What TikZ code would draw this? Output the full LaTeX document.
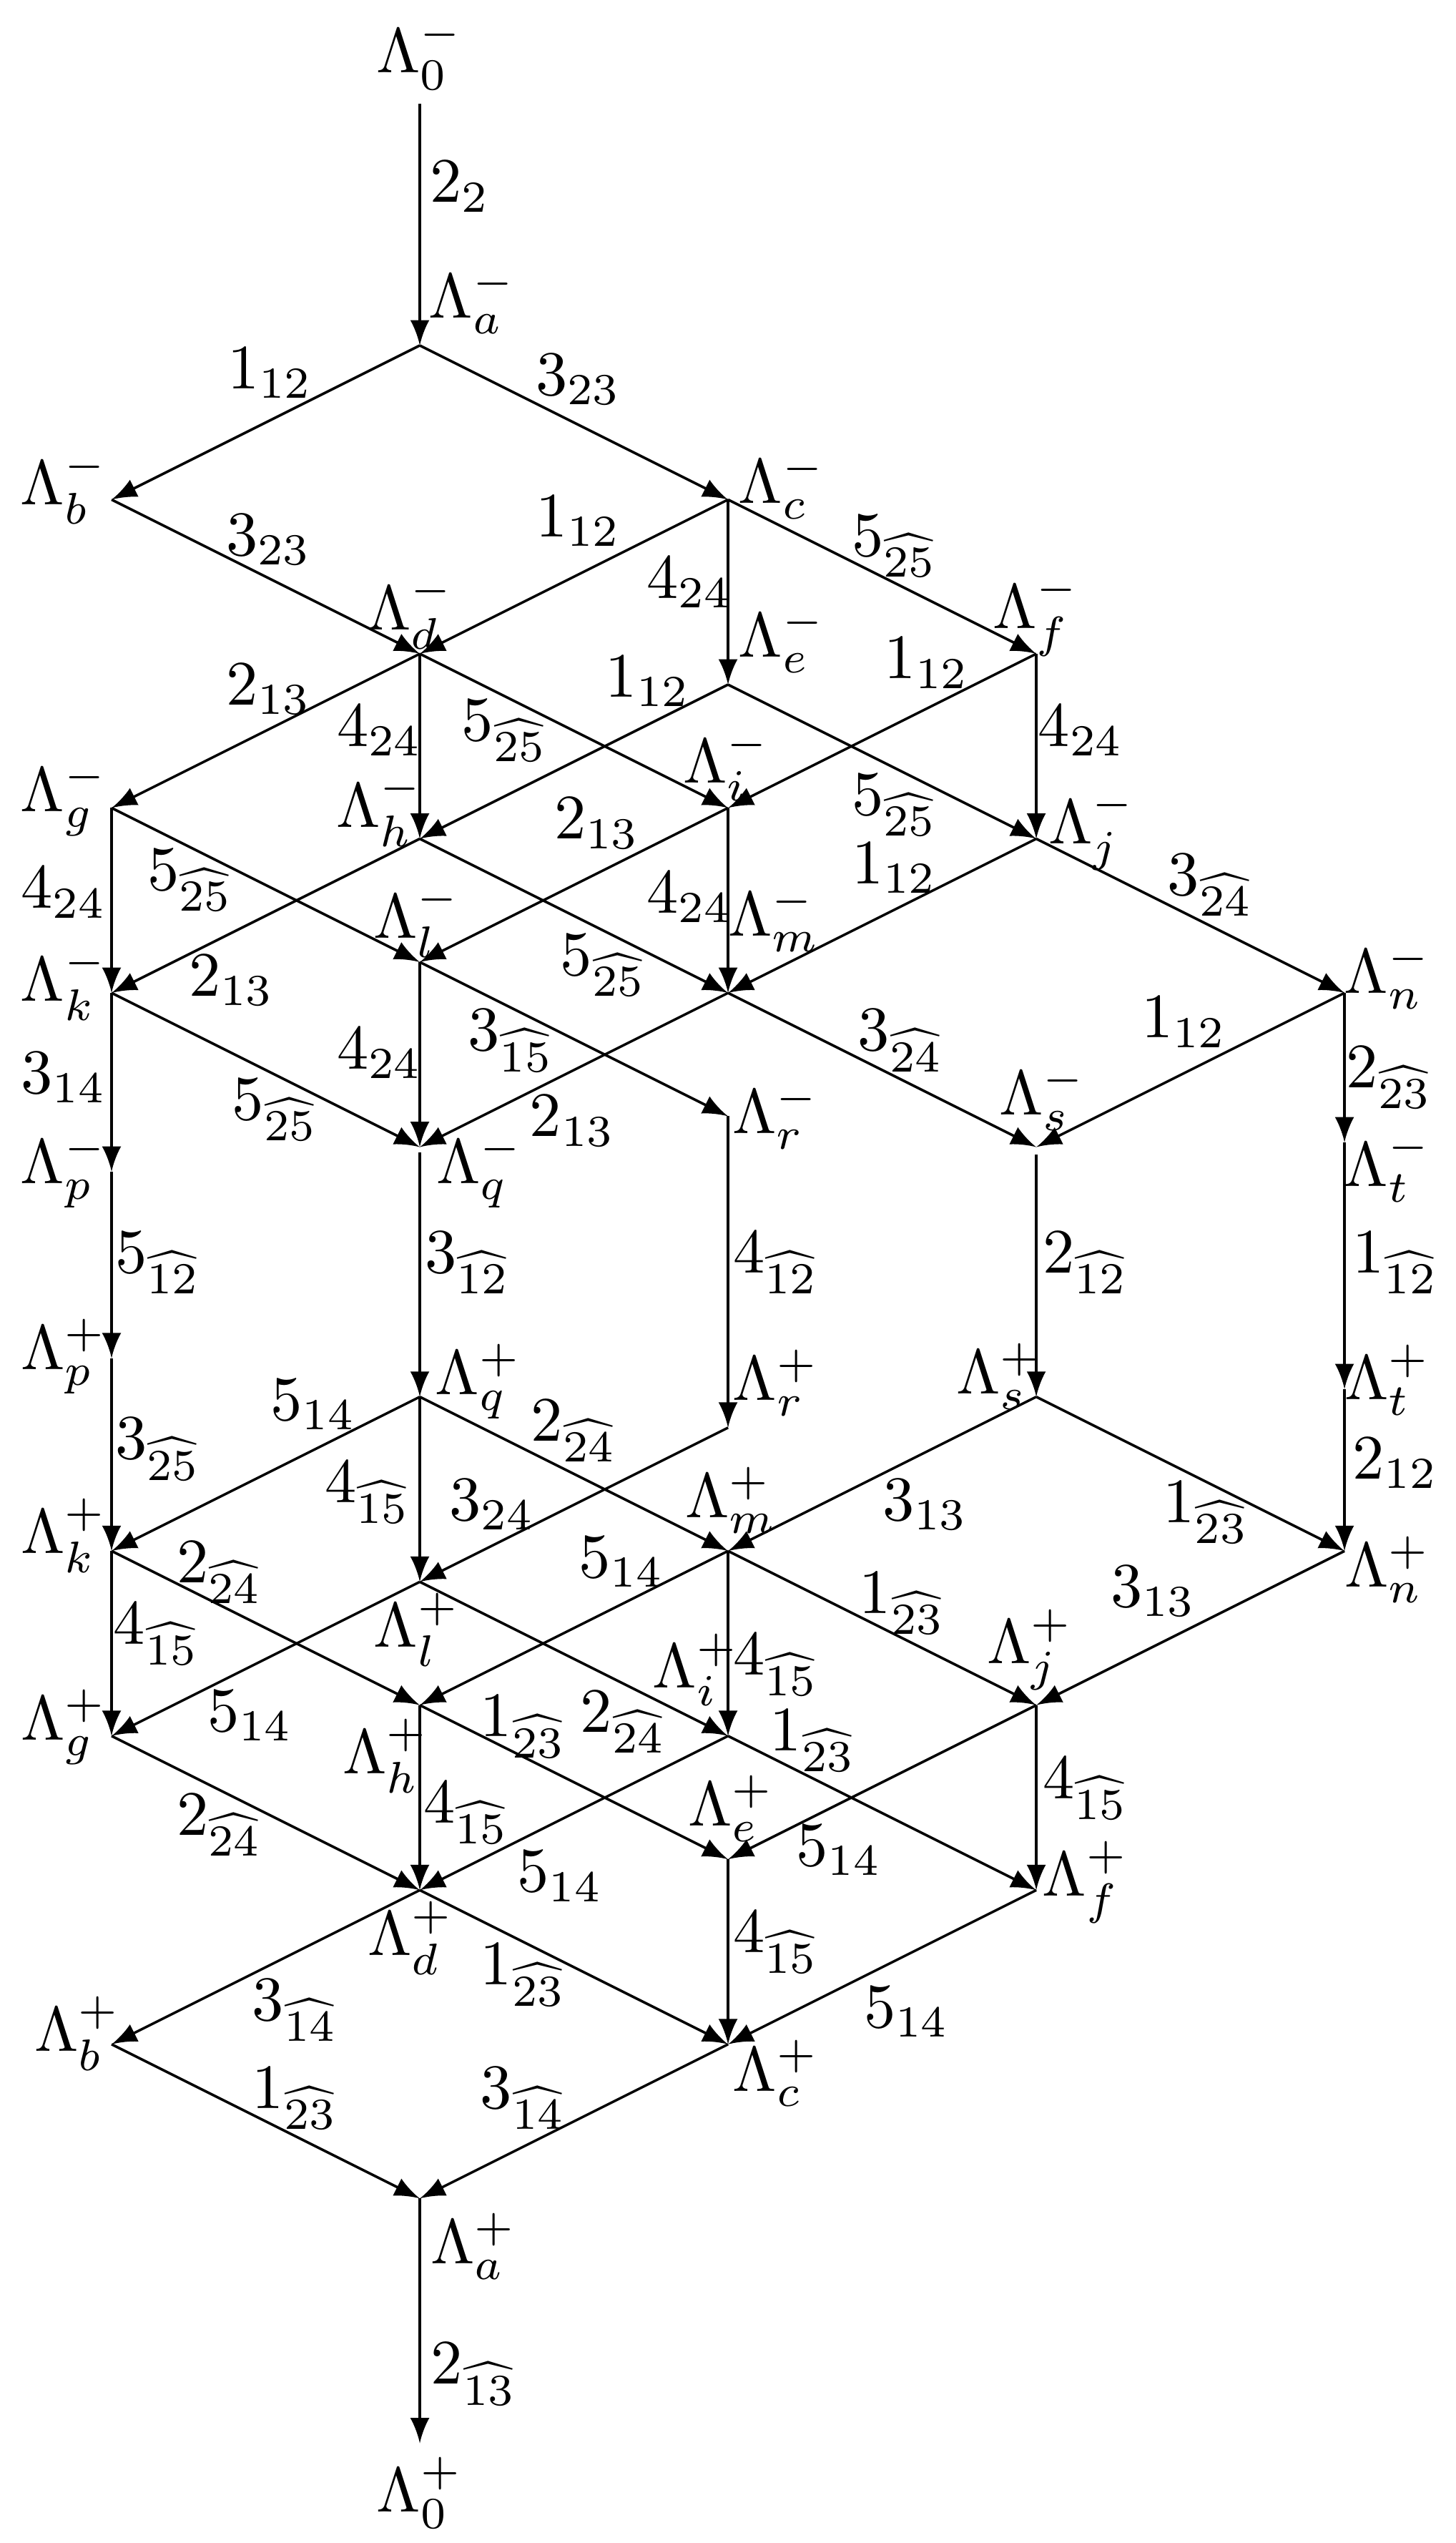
\documentclass[tikz,border=0pt]{standalone}
\usepackage{amsmath}
\begin{document}
\begin{tikzpicture}[
    x=0.856cm, y=0.856cm,
    vlab/.style={inner sep=0pt},
    elab/.style={inner sep=0pt},
    endpt/.style={inner sep=2pt},
    arrow/.style={-latex}
]
\useasboundingbox (-2.724,2.241) rectangle (6.719,-14.255);

% End nodes
\node[endpt] (zm) at (0,1.89) {$\Lambda_0^-$};
\node[endpt] (zp) at (0,-13.93) {$\Lambda_0^+$};

% Vertices, minus half
\coordinate (am) at (0,0);
\coordinate (bm) at (-2,-1);
\coordinate (cm) at (2,-1);
\coordinate (dm) at (0,-2);
\coordinate (em) at (2,-2.2);
\coordinate (fm) at (4,-2);
\coordinate (gm) at (-2,-3);
\coordinate (hm) at (0,-3.2);
\coordinate (im) at (2,-3);
\coordinate (jm) at (4,-3.2);
\coordinate (km) at (-2,-4.2);
\coordinate (lm) at (0,-4);
\coordinate (mm) at (2,-4.2);
\coordinate (nm) at (6,-4.2);
\coordinate (pm) at (-2,-5.36);
\coordinate (qm) at (0,-5.2);
\coordinate (rm) at (2,-5);
\coordinate (sm) at (4,-5.2);
\coordinate (tm) at (6,-5.17);

% Vertices, plus half
\coordinate (pp) at (-2,-6.57);
\coordinate (qp) at (0,-6.82);
\coordinate (rp) at (2,-7.02);
\coordinate (sp) at (4,-6.82);
\coordinate (tp) at (6,-6.77);
\coordinate (kp) at (-2,-7.82);
\coordinate (lp) at (0,-8.02);
\coordinate (mp) at (2,-7.82);
\coordinate (np) at (6,-7.82);
\coordinate (gp) at (-2,-9.02);
\coordinate (hp) at (0,-8.82);
\coordinate (ip) at (2,-9.02);
\coordinate (jp) at (4,-8.82);
\coordinate (dp) at (0,-10.02);
\coordinate (ep) at (2,-9.82);
\coordinate (fp) at (4,-10.02);
\coordinate (bp) at (-2,-11.02);
\coordinate (cp) at (2,-11.02);
\coordinate (ap) at (0,-12.02);

% Vertex labels
\node[vlab] (L-am) at (0.34,0.29) {$\Lambda_a^-$};
\node[vlab] (L-bm) at (-2.31,-0.92) {$\Lambda_b^-$};
\node[vlab] (L-cm) at (2.35,-0.91) {$\Lambda_c^-$};
\node[vlab] (L-dm) at (-0.06,-1.73) {$\Lambda_d^-$};
\node[vlab] (L-em) at (2.35,-1.91) {$\Lambda_e^-$};
\node[vlab] (L-fm) at (4.00,-1.75) {$\Lambda_f^-$};
\node[vlab] (L-gm) at (-2.31,-2.94) {$\Lambda_g^-$};
\node[vlab] (L-hm) at (-0.26,-3.01) {$\Lambda_h^-$};
\node[vlab] (L-im) at (1.99,-2.72) {$\Lambda_i^-$};
\node[vlab] (L-jm) at (4.36,-3.14) {$\Lambda_j^-$};
\node[vlab] (L-km) at (-2.31,-4.14) {$\Lambda_k^-$};
\node[vlab] (L-lm) at (-0.02,-3.73) {$\Lambda_l^-$};
\node[vlab] (L-mm) at (2.30,-3.72) {$\Lambda_m^-$};
\node[vlab] (L-nm) at (6.28,-4.09) {$\Lambda_n^-$};
\node[vlab] (L-pm) at (-2.31,-5.35) {$\Lambda_p^-$};
\node[vlab] (L-qm) at (0.39,-5.35) {$\Lambda_q^-$};
\node[vlab] (L-rm) at (2.31,-5.00) {$\Lambda_r^-$};
\node[vlab] (L-sm) at (4.04,-4.88) {$\Lambda_s^-$};
\node[vlab] (L-tm) at (6.28,-5.33) {$\Lambda_t^-$};
\node[vlab] (L-pp) at (-2.31,-6.56) {$\Lambda_p^+$};
\node[vlab] (L-qp) at (0.38,-6.72) {$\Lambda_q^+$};
\node[vlab] (L-rp) at (2.31,-6.73) {$\Lambda_r^+$};
\node[vlab] (L-sp) at (3.76,-6.69) {$\Lambda_s^+$};
\node[vlab] (L-tp) at (6.28,-6.71) {$\Lambda_t^+$};
\node[vlab] (L-kp) at (-2.31,-7.72) {$\Lambda_k^+$};
\node[vlab] (L-lp) at (-0.02,-8.33) {$\Lambda_l^+$};
\node[vlab] (L-mp) at (2.02,-7.49) {$\Lambda_m^+$};
\node[vlab] (L-np) at (6.28,-7.94) {$\Lambda_n^+$};
\node[vlab] (L-gp) at (-2.31,-8.96) {$\Lambda_g^+$};
\node[vlab] (L-hp) at (-0.22,-9.15) {$\Lambda_h^+$};
\node[vlab] (L-ip) at (1.79,-8.59) {$\Lambda_i^+$};
\node[vlab] (L-jp) at (3.96,-8.46) {$\Lambda_j^+$};
\node[vlab] (L-dp) at (-0.06,-10.33) {$\Lambda_d^+$};
\node[vlab] (L-ep) at (2.02,-9.49) {$\Lambda_e^+$};
\node[vlab] (L-fp) at (4.32,-9.97) {$\Lambda_f^+$};
\node[vlab] (L-bp) at (-2.22,-10.95) {$\Lambda_b^+$};
\node[vlab] (L-cp) at (2.31,-11.21) {$\Lambda_c^+$};
\node[vlab] (L-ap) at (0.35,-12.33) {$\Lambda_a^+$};

% Arrows, minus half
\draw[arrow] (zm) -- (am);
\draw[arrow] (am) -- (bm);
\draw[arrow] (am) -- (cm);
\draw[arrow] (bm) -- (dm);
\draw[arrow] (cm) -- (dm);
\draw[arrow] (cm) -- (em);
\draw[arrow] (cm) -- (fm);
\draw[arrow] (dm) -- (gm);
\draw[arrow] (dm) -- (hm);
\draw[arrow] (dm) -- (im);
\draw[arrow] (em) -- (hm);
\draw[arrow] (em) -- (jm);
\draw[arrow] (fm) -- (im);
\draw[arrow] (fm) -- (jm);
\draw[arrow] (gm) -- (km);
\draw[arrow] (gm) -- (lm);
\draw[arrow] (hm) -- (km);
\draw[arrow] (hm) -- (mm);
\draw[arrow] (im) -- (lm);
\draw[arrow] (im) -- (mm);
\draw[arrow] (jm) -- (mm);
\draw[arrow] (jm) -- (nm);
\draw[arrow] (km) -- (pm);
\draw[arrow] (km) -- (qm);
\draw[arrow] (lm) -- (qm);
\draw[arrow] (lm) -- (rm);
\draw[arrow] (mm) -- (qm);
\draw[arrow] (mm) -- (sm);
\draw[arrow] (nm) -- (sm);
\draw[arrow] (nm) -- (tm);

% Arrows, middle
\draw[arrow] (pm) -- (pp);
\draw[arrow, shorten <=0.8pt] (qm) -- (qp);
\draw[arrow] (rm) -- (rp);
\draw[arrow, shorten <=1.2pt] (sm) -- (sp);
\draw[arrow] (tm) -- (tp);

% Arrows, plus half
\draw[arrow] (pp) -- (kp);
\draw[arrow] (qp) -- (kp);
\draw[arrow] (qp) -- (lp);
\draw[arrow] (qp) -- (mp);
\draw[arrow] (rp) -- (lp);
\draw[arrow] (sp) -- (mp);
\draw[arrow] (sp) -- (np);
\draw[arrow] (tp) -- (np);
\draw[arrow] (kp) -- (gp);
\draw[arrow] (kp) -- (hp);
\draw[arrow] (lp) -- (gp);
\draw[arrow] (lp) -- (ip);
\draw[arrow] (mp) -- (hp);
\draw[arrow] (mp) -- (ip);
\draw[arrow] (mp) -- (jp);
\draw[arrow] (np) -- (jp);
\draw[arrow] (gp) -- (dp);
\draw[arrow] (hp) -- (dp);
\draw[arrow] (hp) -- (ep);
\draw[arrow] (ip) -- (dp);
\draw[arrow] (ip) -- (fp);
\draw[arrow] (jp) -- (ep);
\draw[arrow] (jp) -- (fp);
\draw[arrow] (dp) -- (bp);
\draw[arrow] (dp) -- (cp);
\draw[arrow] (ep) -- (cp);
\draw[arrow] (fp) -- (cp);
\draw[arrow] (bp) -- (ap);
\draw[arrow] (cp) -- (ap);
\draw[arrow] (ap) -- (zp);

% Edge labels, minus half
\node[elab] (w-zm-am) at (0.26,1.03) {$2_2$};
\node[elab] (w-am-bm) at (-0.97,-0.18) {$1_{12}$};
\node[elab] (w-am-cm) at (1.03,-0.22) {$3_{23}$};
\node[elab] (w-bm-dm) at (-0.98,-1.26) {$3_{23}$};
\node[elab] (w-cm-dm) at (1.03,-1.14) {$1_{12}$};
\node[elab] (w-cm-em) at (1.75,-1.54) {$4_{24}$};
\node[elab] (w-cm-fm) at (3.08,-1.30) {$5_{\widehat{25}}$};
\node[elab] (w-dm-gm) at (-0.98,-2.23) {$2_{13}$};
\node[elab] (w-dm-hm) at (-0.26,-2.50) {$4_{24}$};
\node[elab] (w-dm-im) at (0.55,-2.50) {$5_{\widehat{25}}$};
\node[elab] (w-em-hm) at (1.48,-2.18) {$1_{12}$};
\node[elab] (w-fm-im) at (3.29,-2.06) {$1_{12}$};
\node[elab] (w-fm-jm) at (4.29,-2.50) {$4_{24}$};
\node[elab] (w-em-jm) at (3.08,-2.98) {$5_{\widehat{25}}$};
\node[elab] (w-im-lm) at (1.15,-3.10) {$2_{13}$};
\node[elab] (w-gm-km) at (-2.31,-3.55) {$4_{24}$};
\node[elab] (w-gm-lm) at (-1.49,-3.47) {$5_{\widehat{25}}$};
\node[elab] (w-hm-km) at (-1.22,-4.12) {$2_{13}$};
\node[elab] (w-im-mm) at (1.75,-3.58) {$4_{24}$};
\node[elab] (w-hm-mm) at (1.19,-4.02) {$5_{\widehat{25}}$};
\node[elab] (w-jm-mm) at (3.08,-3.39) {$1_{12}$};
\node[elab] (w-jm-nm) at (5.13,-3.50) {$3_{\widehat{24}}$};
\node[elab] (w-lm-qm) at (-0.26,-4.59) {$4_{24}$};
\node[elab] (w-lm-rm) at (0.59,-4.51) {$3_{\widehat{15}}$};
\node[elab] (w-km-pm) at (-2.31,-4.75) {$3_{14}$};
\node[elab] (w-km-qm) at (-0.94,-4.96) {$5_{\widehat{25}}$};
\node[elab] (w-mm-qm) at (0.99,-5.03) {$2_{13}$};
\node[elab] (w-mm-sm) at (3.12,-4.51) {$3_{\widehat{24}}$};
\node[elab] (w-nm-sm) at (4.96,-4.39) {$1_{12}$};
\node[elab] (w-nm-tm) at (6.29,-4.75) {$2_{\widehat{23}}$};

% Edge labels, middle
\node[elab] (w-pm-pp) at (-1.70,-5.95) {$5_{\widehat{12}}$};
\node[elab] (w-qm-qp) at (0.31,-5.95) {$3_{\widehat{12}}$};
\node[elab] (w-rm-rp) at (2.31,-5.95) {$4_{\widehat{12}}$};
\node[elab] (w-sm-sp) at (4.32,-5.95) {$2_{\widehat{12}}$};
\node[elab] (w-tm-tp) at (6.33,-5.95) {$1_{\widehat{12}}$};

% Edge labels, plus half
\node[elab] (w-qp-kp) at (-0.69,-6.87) {$5_{14}$};
\node[elab] (w-pp-kp) at (-1.70,-7.16) {$3_{\widehat{25}}$};
\node[elab] (w-qp-mp) at (1.00,-7.04) {$2_{\widehat{24}}$};
\node[elab] (w-qp-lp) at (-0.34,-7.44) {$4_{\widehat{15}}$};
\node[elab] (w-rp-lp) at (0.47,-7.52) {$3_{24}$};
\node[elab] (w-sp-mp) at (3.28,-7.52) {$3_{13}$};
\node[elab] (w-sp-np) at (5.10,-7.57) {$1_{\widehat{23}}$};
\node[elab] (w-tp-np) at (6.33,-7.25) {$2_{12}$};
\node[elab] (w-kp-hp) at (-1.30,-7.96) {$2_{\widehat{24}}$};
\node[elab] (w-mp-hp) at (1.31,-7.89) {$5_{14}$};
\node[elab] (w-kp-gp) at (-1.71,-8.36) {$4_{\widehat{15}}$};
\node[elab] (w-mp-jp) at (3.13,-8.16) {$1_{\widehat{23}}$};
\node[elab] (w-np-jp) at (4.76,-8.08) {$3_{13}$};
\node[elab] (w-mp-ip) at (2.31,-8.56) {$4_{\widehat{15}}$};
\node[elab] (w-lp-gp) at (-1.10,-8.89) {$5_{14}$};
\node[elab] (w-hp-ep) at (0.67,-8.96) {$1_{\widehat{23}}$};
\node[elab] (w-lp-ip) at (1.32,-8.93) {$2_{\widehat{24}}$};
\node[elab] (w-ip-fp) at (2.55,-9.05) {$1_{\widehat{23}}$};
\node[elab] (w-gp-dp) at (-1.30,-9.60) {$2_{\widehat{24}}$};
\node[elab] (w-hp-dp) at (0.30,-9.52) {$4_{\widehat{15}}$};
\node[elab] (w-jp-fp) at (4.32,-9.36) {$4_{\widehat{15}}$};
\node[elab] (w-jp-ep) at (2.72,-9.76) {$5_{14}$};
\node[elab] (w-ip-dp) at (0.91,-9.93) {$5_{14}$};
\node[elab] (w-ep-cp) at (2.31,-10.36) {$4_{\widehat{15}}$};
\node[elab] (w-dp-cp) at (0.67,-10.57) {$1_{\widehat{23}}$};
\node[elab] (w-dp-bp) at (-0.81,-10.80) {$3_{\widehat{14}}$};
\node[elab] (w-fp-cp) at (3.16,-10.81) {$5_{14}$};
\node[elab] (w-bp-ap) at (-0.81,-11.37) {$1_{\widehat{23}}$};
\node[elab] (w-cp-ap) at (0.67,-11.37) {$3_{\widehat{14}}$};
\node[elab] (w-ap-zp) at (0.35,-13.16) {$2_{\widehat{13}}$};

\end{tikzpicture}
\end{document}
